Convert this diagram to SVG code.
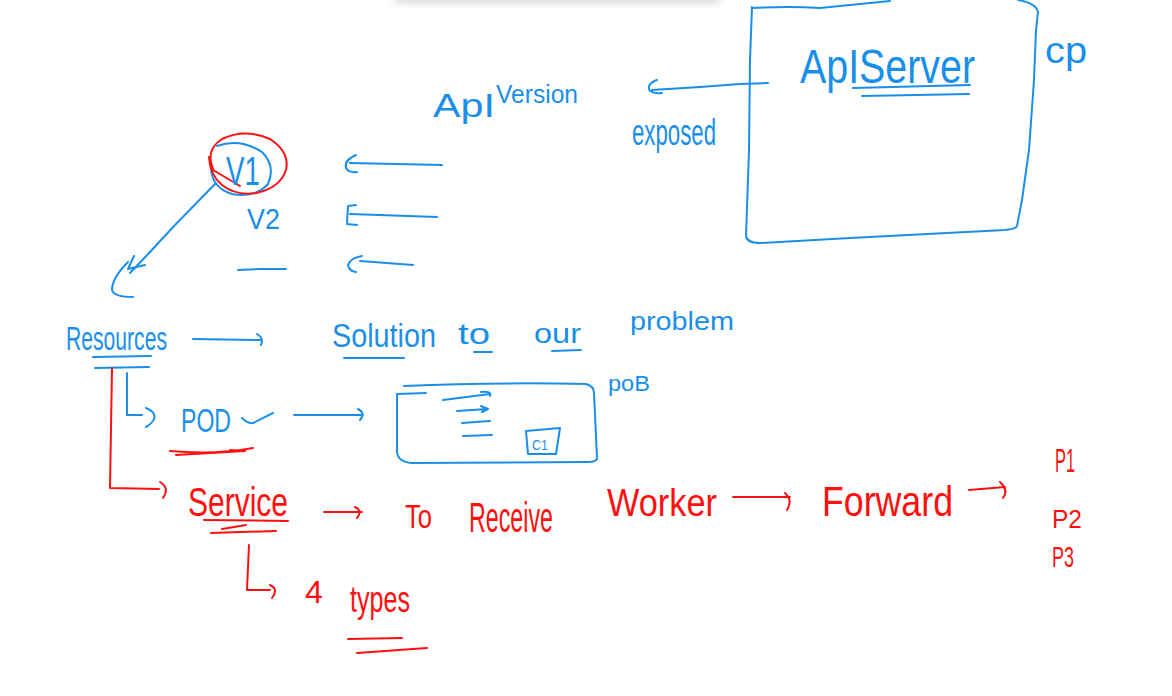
<svg xmlns="http://www.w3.org/2000/svg" width="1172" height="696" viewBox="0 0 1172 696">
<defs>
<filter id="blur" x="-20%" y="-200%" width="140%" height="500%"><feGaussianBlur stdDeviation="5"/></filter>
</defs>
<style>
.b{fill:none;stroke:#1a8fea;stroke-width:2;stroke-linecap:round;stroke-linejoin:round}
.r{fill:none;stroke:#ff1010;stroke-width:2;stroke-linecap:round;stroke-linejoin:round}
.tb{fill:#1a8fea;font-family:"Liberation Sans",Arial,sans-serif}
.tr{fill:#ff1010;font-family:"Liberation Sans",Arial,sans-serif}
</style>
<rect width="1172" height="696" fill="#ffffff"/>
<rect x="395" y="-22" width="325" height="24" fill="#000" opacity="0.18" filter="url(#blur)"/>

<g id="apiserver">
<path class="b" d="M752,8 Q790,6 820,8 L860,4 L890,1"/>
<path class="b" d="M1018,0 Q1036,3 1038,12 L1036,30 L1034,80 L1029,150 L1022,200 L1017,226 Q1016,229 1005,230 L850,238 L760,243 Q747,243 746,236"/>
<path class="b" d="M752,7 L750,60 L749,150 L746,236"/>
<text class="tb" x="800" y="83" font-size="48" textLength="175" lengthAdjust="spacingAndGlyphs">ApIServer</text>
<path class="b" d="M853,88 L970,85"/>
<path class="b" d="M862,96 L969,94"/>
</g>

<g id="cp">
<text class="tb" x="1045" y="63" font-size="36" textLength="42" lengthAdjust="spacingAndGlyphs">cp</text>
</g>

<g id="apiversion">
<text class="tb" font-size="34"><tspan x="433" y="117" textLength="62" lengthAdjust="spacingAndGlyphs">ApI</tspan><tspan x="496" y="103" font-size="26" textLength="82" lengthAdjust="spacingAndGlyphs">Version</tspan></text>
</g>

<g id="exposed">
<text class="tb" x="632" y="145" font-size="36" textLength="84" lengthAdjust="spacingAndGlyphs">exposed</text>
</g>

<g id="v1">
<path class="b" d="M217,146 Q240,138 262,152 Q276,166 268,184 Q256,198 232,194 Q212,188 211,168"/>
<path class="r" d="M213,169 Q205,150 222,139 Q245,128 270,139 Q290,152 286,170 Q280,188 256,193 Q236,196 222,185 Q210,175 209,157 M213,170 L240,186"/>
<text class="tb" x="226" y="185" font-size="40" textLength="34" lengthAdjust="spacingAndGlyphs">V1</text>
</g>

<g id="v2">
<text class="tb" x="247" y="229" font-size="30" textLength="33" lengthAdjust="spacingAndGlyphs">V2</text>
</g>

<g id="dash">
<path class="b" d="M238,270 L260,269 L286,269"/>
</g>

<g id="resources">
<text class="tb" x="66" y="350" font-size="34" textLength="101" lengthAdjust="spacingAndGlyphs">Resources</text>
<path class="b" d="M93,357 L151,356"/>
<path class="b" d="M95,368 L149,367"/>
</g>

<g id="solution">
<text class="tb" x="332" y="347" font-size="34" textLength="104" lengthAdjust="spacingAndGlyphs">Solution</text>
<path class="b" d="M344,358 L404,358"/>
<text class="tb" x="458" y="344" font-size="30" textLength="32" lengthAdjust="spacingAndGlyphs">to</text>
<path class="b" d="M474,352 L492,352"/>
<text class="tb" x="534" y="343" font-size="28" textLength="47" lengthAdjust="spacingAndGlyphs">our</text>
<path class="b" d="M552,351 L581,350"/>
<text class="tb" x="630" y="330" font-size="26" textLength="104" lengthAdjust="spacingAndGlyphs">problem</text>
</g>

<g id="pob">
<text class="tb" x="608" y="391" font-size="22" textLength="42" lengthAdjust="spacingAndGlyphs">poB</text>
</g>

<g id="pod">
<text class="tb" x="181" y="432" font-size="33" textLength="50" lengthAdjust="spacingAndGlyphs">POD</text>
<path class="b" d="M242,418 Q248,424 253,423 L273,413"/>
<path class="r" d="M170,451 Q215,455 253,448 M176,455 L245,451 L230,450"/>
</g>

<g id="podbox">
<path class="b" d="M404,386 Q500,382 586,384 Q594,386 594,393 L597,458 Q597,462 588,462 L412,463 Q398,462 397,452 L397,394 L426,393"/>
<path class="b" d="M443,400 L490,394 M481,392 Q492,391 490,396"/>
<path class="b" d="M457,411 L487,409 M481,406 L488,409 L482,412"/>
<path class="b" d="M462,423 L490,421"/>
<path class="b" d="M463,436 L492,435"/>
<path class="b" d="M526,431 L560,428 L556,454 L528,454 Z"/>
<text class="tb" x="532" y="450" font-size="15" textLength="16" lengthAdjust="spacingAndGlyphs">C1</text>
</g>

<g id="service">
<text class="tr" x="188" y="516" font-size="40" textLength="100" lengthAdjust="spacingAndGlyphs">Service</text>
<path class="r" d="M204,520 L288,521"/>
<path class="r" d="M211,533 L276,531 M222,529 L246,525"/>
</g>

<g id="toreceive">
<text class="tr" x="405" y="528" font-size="34" textLength="27" lengthAdjust="spacingAndGlyphs">To</text>
<text class="tr" x="469" y="532" font-size="42" textLength="84" lengthAdjust="spacingAndGlyphs">Receive</text>
</g>

<g id="worker">
<text class="tr" x="607" y="516" font-size="38" textLength="110" lengthAdjust="spacingAndGlyphs">Worker</text>
</g>

<g id="forward">
<text class="tr" x="822" y="516" font-size="42" textLength="131" lengthAdjust="spacingAndGlyphs">Forward</text>
</g>

<g id="pods">
<text class="tr" x="1055" y="472" font-size="34" textLength="20" lengthAdjust="spacingAndGlyphs">P1</text>
<text class="tr" x="1052" y="528" font-size="26" textLength="30" lengthAdjust="spacingAndGlyphs">P2</text>
<text class="tr" x="1052" y="567" font-size="30" textLength="22" lengthAdjust="spacingAndGlyphs">P3</text>
</g>

<g id="types">
<text class="tr" x="305" y="603" font-size="32">4</text>
<text class="tr" x="350" y="612" font-size="36" textLength="60" lengthAdjust="spacingAndGlyphs">types</text>
<path class="r" d="M348,639 L402,638"/>
<path class="r" d="M357,653 L427,648"/>
</g>

<g id="connectors">
<path class="b" d="M768,83 L740,84 L700,87 L652,90 M657,80 Q646,84 650,91 Q654,94 662,93"/>
<path class="b" d="M350,163 L442,165 M356,155 Q344,160 346,168 Q349,173 357,172"/>
<path class="b" d="M350,214 L437,217 M356,205 L348,206 L347,224 L357,225"/>
<path class="b" d="M360,261 L413,265 M362,256 Q350,258 348,265 Q349,271 356,272"/>
<path class="b" d="M216,183 L175,225 L150,252 L130,273"/>
<path class="b" d="M128,262 Q112,278 112,290 Q114,297 133,297 M134,256 L128,269 L145,265"/>
<path class="b" d="M193,339 L261,340 M257,334 Q264,338 261,345"/>
<path class="r" d="M112,368 L110,488 L159,489 M160,482 Q170,488 163,498"/>
<path class="b" d="M127,373 L127,415 L142,415 M146,408 Q158,413 153,421 Q150,425 146,427"/>
<path class="b" d="M294,415 L363,415 M358,409 Q366,413 360,420"/>
<path class="r" d="M249,545 L247,590 L270,590 M270,585 Q279,589 272,598"/>
<path class="r" d="M324,512 L362,512 M355,507 Q363,511 357,518"/>
<path class="r" d="M733,497 L790,497 M785,493 Q793,500 787,510"/>
<path class="r" d="M969,490 L1005,487 M1000,482 Q1009,490 1003,498"/>
</g>
</svg>
